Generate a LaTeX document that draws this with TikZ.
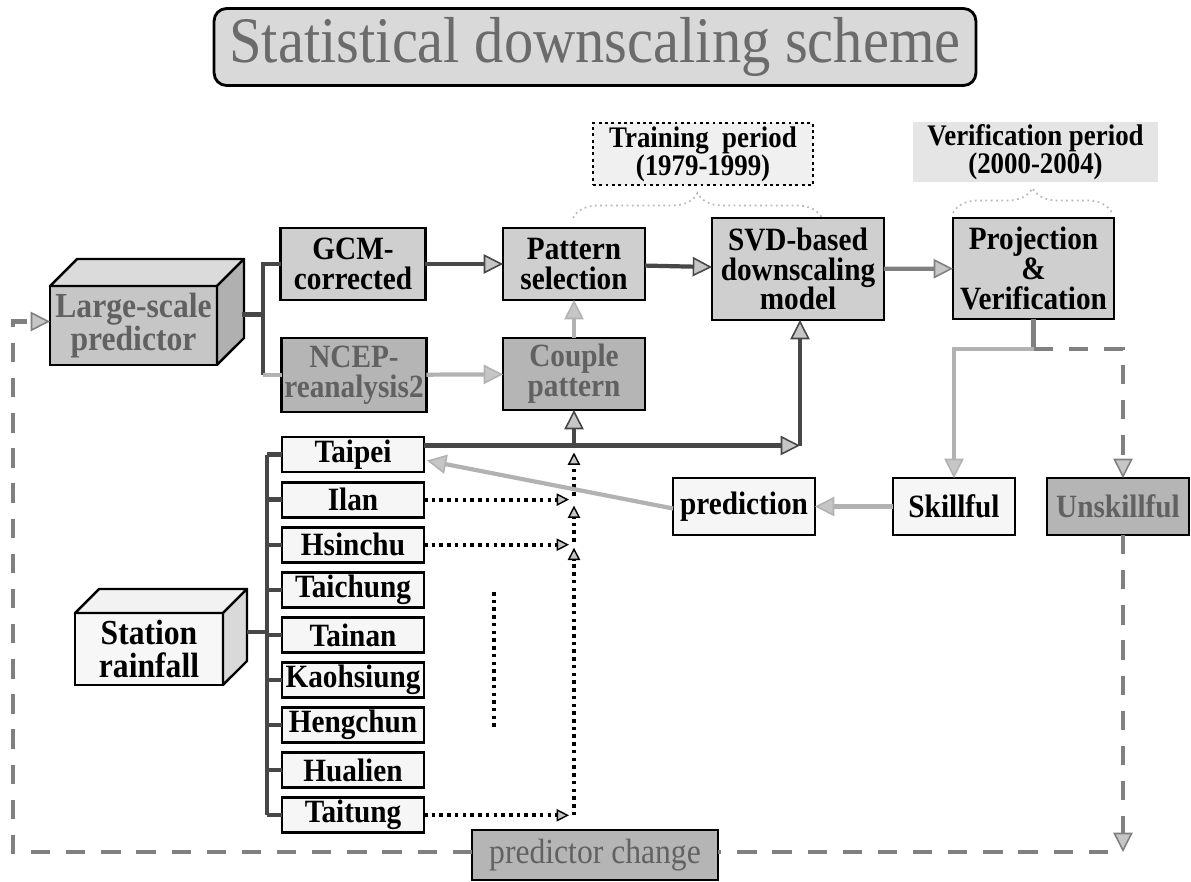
\documentclass[tikz,border=0pt]{standalone}
\usepackage{fontspec}
\setmainfont{Liberation Serif}[FakeStretch=0.9]
\usetikzlibrary{calc}
\usetikzlibrary{arrows.meta}
\usetikzlibrary{decorations.pathreplacing}

\tikzset{
 box/.style={draw=black, line width=1.6pt, align=center, inner sep=1pt, outer sep=0pt, font=\bfseries\fontsize{18.5}{17}\selectfont},
 midbox/.style={box, fill=gray!38},
 darkbox/.style={box, fill=gray!58, text=black!62},
 litebox/.style={box, fill=gray!7},
 stnbox/.style={litebox, minimum width=2.84cm, minimum height=0.7cm},
 cube/.style={box, font=\bfseries\fontsize{20}{19}\selectfont},
 cubeln/.style={draw=black, line width=1.4pt, line join=round},
 dkln/.style={line width=2.4pt, draw=black!72},
 mdln/.style={line width=2.4pt, draw=black!50},
 ltln/.style={line width=2.4pt, draw=black!30},
 dshln/.style={line width=2.8pt, draw=black!50, dash pattern=on 11pt off 9pt},
 dotln/.style={line width=2.2pt, draw=black, dash pattern=on 2pt off 2.4pt, >={Triangle[length=7pt, width=7pt, fill=gray!45, line width=0.8pt]}},
 brc/.style={draw=gray!55, line width=1pt, dotted, decorate, decoration={brace, amplitude=0.5cm}},
 >={Triangle[length=11pt, width=11pt, fill=gray!45, line width=0.9pt]},
}

\begin{document}
\begin{tikzpicture}[x=0.02cm, y=-0.02cm]
\useasboundingbox (0,0) rectangle (1191,882);
\node[box, fill=gray!30, rounded corners=0.25cm, minimum width=15.24cm, minimum height=1.54cm, font=\fontsize{37}{37}\selectfont, text=black!58] (title) at (595,47) {Statistical downscaling scheme};

\node[box, dotted, fill=gray!12, minimum width=4.4cm, minimum height=1.24cm, font=\bfseries\fontsize{17}{16}\selectfont] (train) at (703,154) {Training\ \ period\\(1979-1999)};
\node[box, draw=none, fill=gray!20, minimum width=4.9cm, minimum height=1.2cm, font=\bfseries\fontsize{17}{16}\selectfont] (verif) at (1035.5,152) {Verification period\\(2000-2004)};
\draw[brc] (573,218) -- (822,218);
\draw[brc] (953,213) -- (1112,213);

\node[cube, fill=gray!45, minimum width=3.34cm, minimum height=1.58cm, text=black!62] (lsp) at (133.5,325.5) {Large-scale\\predictor};
\filldraw[cubeln, fill=gray!28] (lsp.north west) -- ++(27,-27) -- ++(167,0) -- (lsp.north east) -- cycle;
\filldraw[cubeln, fill=gray!62] (lsp.north east) -- ++(27,-27) -- ++(0,79) -- (lsp.south east) -- cycle;
\node[cube, fill=gray!6, minimum width=2.96cm, minimum height=1.44cm] (stn) at (149,649) {Station\\rainfall};
\filldraw[cubeln, fill=gray!10] (stn.north west) -- ++(24,-24) -- ++(148,0) -- (stn.north east) -- cycle;
\filldraw[cubeln, fill=gray!30] (stn.north east) -- ++(24,-24) -- ++(0,72) -- (stn.south east) -- cycle;

\node[midbox, minimum width=2.9cm, minimum height=1.44cm] (gcm) at (353,264) {GCM-\\corrected};
\node[darkbox, minimum width=2.9cm, minimum height=1.48cm] (ncep) at (354,375) {NCEP-\\reanalysis2};
\node[midbox, minimum width=2.84cm, minimum height=1.44cm] (pat) at (574,264) {Pattern\\selection};
\node[darkbox, minimum width=2.84cm, minimum height=1.44cm] (cpl) at (574,374) {Couple\\pattern};
\node[midbox, minimum width=3.44cm, minimum height=2.04cm] (svd) at (798,269) {SVD-based\\downscaling\\model};
\node[midbox, minimum width=3.22cm, minimum height=2.02cm] (proj) at (1033.5,268.5) {Projection\\\&\\Verification};
\node[litebox, minimum width=2.44cm, minimum height=1.14cm] (skill) at (954,506.5) {Skillful};
\node[darkbox, minimum width=2.84cm, minimum height=1.14cm] (unsk) at (1118,506.5) {Unskillful};
\node[litebox, minimum width=2.84cm, minimum height=1.14cm] (pred) at (744,506.5) {prediction};
\node[darkbox, minimum width=4.92cm, minimum height=1cm, font=\fontsize{20}{20}\selectfont] (pch) at (595,855) {predictor change};

\foreach \n/\t [count=\i from 0] in {tpe/Taipei, ilan/Ilan, hsc/Hsinchu, tch/Taichung, tnn/Tainan, khh/Kaohsiung, hch/Hengchun, hln/Hualien, ttg/Taitung}
 \node[stnbox] (\n) at (353,{454.5+45.1*\i}) {\t};

\coordinate (lbus) at (263,0);
\coordinate (sbus) at (267,0);
\draw[dkln] ($(lsp.east)+(25,-11)$) -- +(21,0);
\draw[dkln] (gcm.west) -- (gcm.west -| lbus) -- (ncep.west -| lbus);
\draw[ltln] (ncep.west -| lbus) -- (ncep.west);
\draw[dkln] ($(stn.east)+(24,-17)$) -- +(20,0);
\draw[dkln] (tpe.west -| sbus) -- (ttg.west -| sbus);
\foreach \n in {tpe,ilan,hsc,tch,tnn,khh,hch,hln,ttg}
 \draw[dkln] (\n.west -| sbus) -- (\n.west);

\draw[dkln,->] (gcm) -- (pat);
\draw[ltln,->] (ncep) -- (cpl);
\draw[ltln,->] (cpl) -- (pat);
\draw[dkln,->] (pat) -- (svd);
\draw[mdln,->] (svd) -- (proj);

\coordinate (tpR) at ($(svd.south |- tpe.east)+(2,-9)$);
\draw[dkln,->] ($(tpe.east)+(0,-9)$) -- (tpR);
\draw[dkln,->] (tpR) -- (tpR |- svd.south);
\draw[dkln,->] (cpl.south |- tpR) -- (cpl.south);

\foreach \n in {ilan,hsc,ttg}
 \draw[dotln,->] (\n.east) -- ($(cpl.south |- \n.east)+(-5,0)$);
\draw[dotln,->] (cpl.south |- ttg.east) -- ($(cpl.south |- hsc.east)+(0,3)$);
\draw[dotln,->] ($(cpl.south |- hsc.east)+(0,-3)$) -- ($(cpl.south |- ilan.east)+(0,6)$);
\draw[dotln,->] ($(cpl.south |- ilan.east)+(0,-4)$) -- ($(cpl.south |- tpe.east)+(0,-2)$);
\draw[dotln] (494,592) -- (494,728);

\draw[mdln] (proj.south) -- ++(0,30) coordinate (pjB);
\draw[ltln,->] (pjB) -| (skill.north);
\draw[dshln,->] (pjB) -| ($(unsk.north)+(5,0)$);
\draw[ltln,->] (skill) -- (pred);
\draw[ltln,->] ($(pred.west)+(0,2)$) -- ($(tpe.east)+(3,6)$);

\draw[dshln,->] ($(unsk.south)+(5,0)$) -- ($(unsk.south |- pch.east)+(5,-3)$);
\draw[dshln] ($(unsk.south |- pch.east)+(-10,-3)$) -- ($(pch.east)+(0,-3)$);
\draw[dshln,->] ($(pch.west)+(0,-3)$) -| ($(lsp.west)+(-37,-4)$) -- ($(lsp.west)+(0,-4)$);
\end{tikzpicture}
\end{document}
